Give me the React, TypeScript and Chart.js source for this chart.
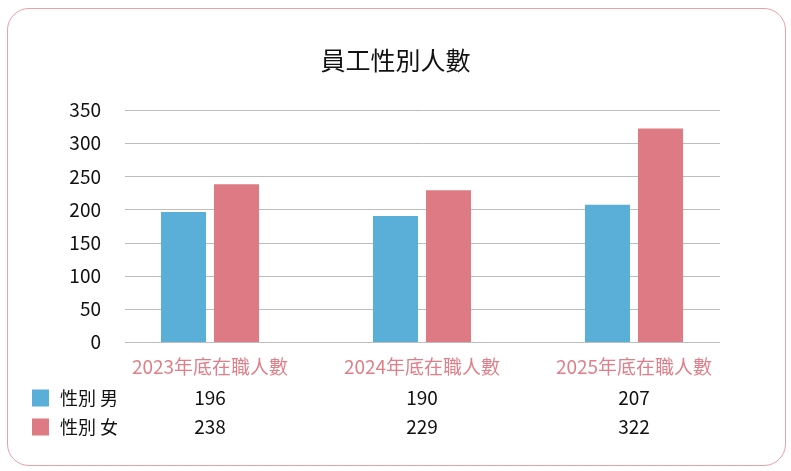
import React, { useEffect, useRef } from 'react';
import { Chart, registerables } from 'chart.js';

Chart.register(...registerables);

const categories = ['2023年底在職人數', '2024年底在職人數', '2025年底在職人數'];
const seriesLabels = ['性別 男', '性別 女'];
const maleValues = [196, 190, 207];
const femaleValues = [238, 229, 322];
const yMax = 350;
const yStep = 50;

const FONT = '"Noto Sans CJK TC", "Noto Sans", sans-serif';

// horizontal grid lines, inset from the plot edges like the original
const insetGrid = {
  id: 'insetGrid',
  beforeDatasetsDraw(chart: any) {
    const { ctx, chartArea, scales } = chart;
    ctx.save();
    ctx.strokeStyle = '#bdbdbd';
    ctx.lineWidth = 1;
    scales.y.ticks.forEach((t: any) => {
      const y = Math.round(scales.y.getPixelForValue(t.value)) + 0.5;
      ctx.beginPath();
      ctx.moveTo(chartArea.left + 21, y);
      ctx.lineTo(chartArea.right - 20, y);
      ctx.stroke();
    });
    ctx.restore();
  },
};

// data table under the x labels
const dataTable = {
  id: 'dataTable',
  afterDraw(chart: any) {
    const { ctx, chartArea, scales } = chart;
    ctx.save();
    ctx.textBaseline = 'middle';
    chart.data.datasets.forEach((ds: any, i: number) => {
      const rowY = chartArea.bottom + 56 + i * 29;
      ctx.fillStyle = ds.backgroundColor;
      ctx.fillRect(32, rowY - 8.5, 17, 17);
      ctx.fillStyle = '#111';
      ctx.font = `18px ${FONT}`;
      ctx.textAlign = 'left';
      ctx.fillText(ds.label, 60, rowY);
      ctx.font = `19px ${FONT}`;
      ctx.textAlign = 'center';
      ds.data.forEach((v: number, j: number) => {
        ctx.fillText(String(v), scales.x.getPixelForValue(j), rowY);
      });
    });
    ctx.restore();
  },
};

const App: React.FC = () => {
  const canvasRef = useRef<HTMLCanvasElement | null>(null);
  const chartRef = useRef<Chart | null>(null);

  useEffect(() => {
    if (!canvasRef.current) return;
    if (chartRef.current) chartRef.current.destroy();
    Chart.defaults.font.family = FONT;

    chartRef.current = new Chart(canvasRef.current, {
      type: 'bar',
      data: {
        labels: categories,
        datasets: [
          {
            label: seriesLabels[0],
            data: maleValues,
            backgroundColor: '#5aafd9',
            barPercentage: 0.85,
            categoryPercentage: 0.5,
          },
          {
            label: seriesLabels[1],
            data: femaleValues,
            backgroundColor: '#dd7a83',
            barPercentage: 0.85,
            categoryPercentage: 0.5,
          },
        ],
      },
      options: {
        animation: false,
        responsive: true,
        maintainAspectRatio: false,
        layout: { padding: 0 },
        plugins: {
          legend: { display: false },
          tooltip: { enabled: false },
          title: {
            display: true,
            text: '員工性別人數',
            color: '#111',
            font: { size: 25, weight: 'normal', family: FONT, lineHeight: 1.2 },
            padding: { top: 45, bottom: 35 },
          },
        },
        scales: {
          x: {
            grid: { display: false, drawTicks: false },
            border: { display: false },
            ticks: {
              color: '#e07f89',
              font: { size: 19, family: FONT },
              padding: 13,
              maxRotation: 0,
            },
            afterFit(scale: any) {
              scale.height = 129;
            },
          },
          y: {
            min: 0,
            max: yMax,
            grid: { display: false, drawTicks: false },
            border: { display: false },
            ticks: {
              stepSize: yStep,
              color: '#111',
              font: { size: 19, family: FONT },
              padding: 3,
            },
            afterFit(scale: any) {
              scale.width = 104;
            },
          },
          // empty right axis, only keeps the plot clear of the right edge
          yRight: {
            position: 'right',
            grid: { display: false, drawTicks: false },
            border: { display: false },
            ticks: { display: false },
            afterFit(scale: any) {
              scale.width = 51;
            },
          },
        },
      },
      plugins: [insetGrid, dataTable],
    });

    return () => {
      if (chartRef.current) {
        chartRef.current.destroy();
        chartRef.current = null;
      }
    };
  }, []);

  return (
    <div style={{ position: 'absolute', left: 0, top: 0, width: 791, height: 471, background: '#fff' }}>
      <div
        style={{
          position: 'absolute',
          left: 7,
          top: 8,
          width: 779,
          height: 458,
          boxSizing: 'border-box',
          border: '1.5px solid #e9a1a8',
          borderRadius: 22,
        }}
      />
      <div style={{ position: 'absolute', left: 0, top: 0, width: 791, height: 471 }}>
        <canvas ref={canvasRef}></canvas>
      </div>
    </div>
  );
};

export default App;
